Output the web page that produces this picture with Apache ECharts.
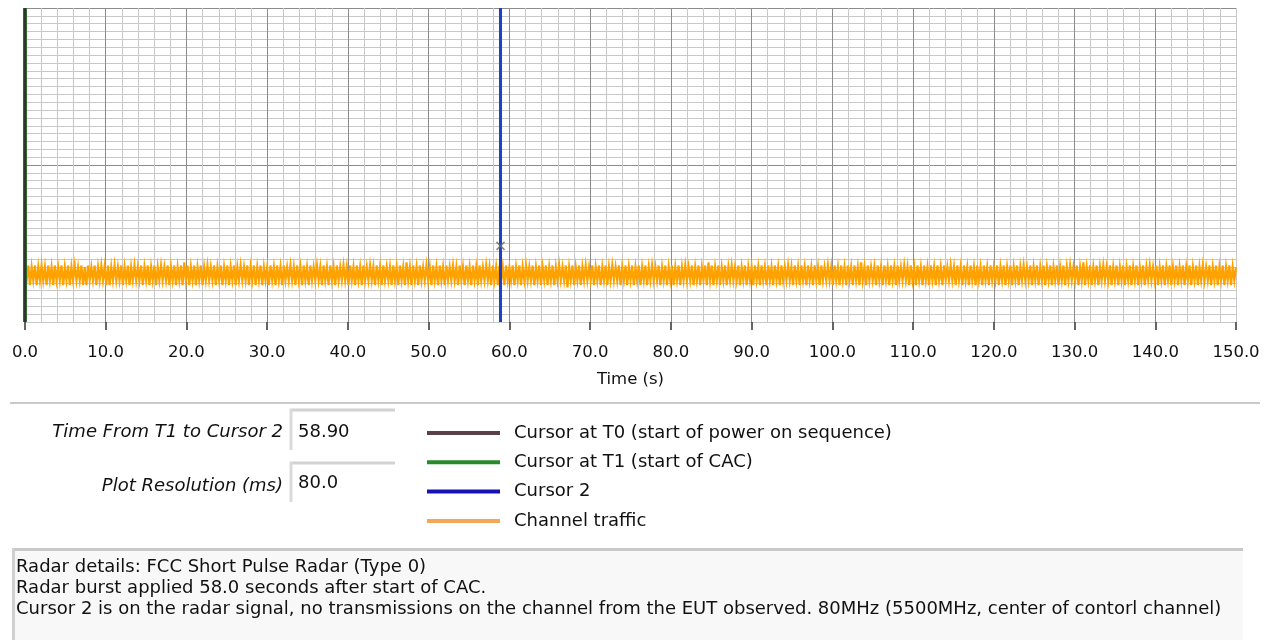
<!DOCTYPE html>
<html>
<head>
<meta charset="utf-8">
<script src="https://cdn.jsdelivr.net/npm/echarts@6/dist/echarts.min.js"></script>
<style>
html,body{margin:0;padding:0;background:#fff}
#chart{width:1270px;height:640px}
</style>
</head>
<body>
<div id="chart"></div>
<script>
// ---- data ----
const X_MIN = 0, X_MAX = 150, X_STEP = 10;
const Y_MIN = 0, Y_MAX = 40, Y_MAJOR = 20;

const seriesNames = [
  'Cursor at T0 (start of power on sequence)',
  'Cursor at T1 (start of CAC)',
  'Cursor 2',
  'Channel traffic'
];
// cursor positions in seconds
const cursorT0 = 0;
const cursorT1 = 0;
const cursor2 = 58.9;
// marker sitting on cursor 2 (time, level)
const cursor2Marker = [58.9, 9.7];

// channel traffic level per code character
const trafficLevels = { '1': 4.4, '2': 4.7, '3': 5.3, '4': 5.7, '5': 6.3, '6': 7.0, '7': 7.2, '8': 7.6 };
// sampled traffic, one code per sample, spanning 0 .. 150 s
const trafficRows = [
  '6372637263736273627363726372637363726273637263736272637363726372637363726',
  '3726372637363726372637283726372637263736372637263726372637363726372637263',
  '6273627362736373627362736273637362736273627363736273627362736373627362736',
  '3627362736283627362736373627362736273637362736273627362736373627362736273',
  '6372637263736372637263726372637363716372637263736372637263726373637263726',
  '3726372637263736372637263726372637363726372637283726372637263736372637263',
  '6273627362736273627363736273627362736273627363736273627362736273628362736',
  '3627362736273627363736273627362736273627362736373627362736273627362736273',
  '6372637263726372637363726372637263726372637263736372638263726372637363726',
  '3726372637263726372637363726372637263726372637263726373637263726372637263',
  '6'
];

const xTickLabels = ['0.0','10.0','20.0','30.0','40.0','50.0','60.0','70.0','80.0','90.0','100.0','110.0','120.0','130.0','140.0','150.0'];
const xAxisName = 'Time (s)';

const fieldLabels = ['Time From T1 to Cursor 2', 'Plot Resolution (ms)'];
const fieldValues = ['58.90', '80.0'];

const detailLines = [
  'Radar details: FCC Short Pulse Radar (Type 0)',
  'Radar burst applied 58.0 seconds after start of CAC.',
  'Cursor 2 is on the radar signal, no transmissions on the channel from the EUT observed. 80MHz (5500MHz, center of contorl channel)'
];

// ---- build series data ----
const trafficCodes = trafficRows.join('');
const nSamples = trafficCodes.length;
const trafficData = [];
for (let i = 0; i < nSamples; i++) {
  const t = X_MIN + (X_MAX - X_MIN) * i / (nSamples - 1);
  trafficData.push([t, trafficLevels[trafficCodes[i]]]);
}
const vline = x => [[x, Y_MIN], [x, Y_MAX]];

const legendColors = ['#5a4048', '#2a8a2a', '#1414b4', '#f4a757'];

const FONT = 'DejaVu Sans';
const UI_SIZE = 18;

// grid colours: lighter bottom / right edge lines, darker majors
const MAJOR = '#8c8c8c', MINOR = '#c8c8c8';
const xSplitColors = xTickLabels.map((_, i) => i === xTickLabels.length - 1 ? MINOR : MAJOR);
const ySplitColors = [MINOR, MAJOR, MAJOR];

const chart = echarts.init(document.getElementById('chart'), null, { renderer: 'canvas' });

const graphics = [
  // separator under the plot
  { type: 'line', shape: { x1: 10, y1: 403, x2: 1260, y2: 403 }, style: { stroke: '#c9c9c9', lineWidth: 2 } },
  // field labels
  { type: 'text', x: 283, y: 432, style: { text: fieldLabels[0], fontFamily: FONT, fontStyle: 'italic', fontSize: UI_SIZE, fill: '#111', align: 'right', verticalAlign: 'middle' } },
  { type: 'text', x: 283, y: 486, style: { text: fieldLabels[1], fontFamily: FONT, fontStyle: 'italic', fontSize: UI_SIZE, fill: '#111', align: 'right', verticalAlign: 'middle' } },
  // field boxes
  { type: 'line', shape: { x1: 290, y1: 410, x2: 395, y2: 410 }, style: { stroke: '#d2d2d2', lineWidth: 3 } },
  { type: 'line', shape: { x1: 291, y1: 409, x2: 291, y2: 450 }, style: { stroke: '#dadada', lineWidth: 3 } },
  { type: 'text', x: 298, y: 432, style: { text: fieldValues[0], fontFamily: FONT, fontSize: UI_SIZE, fill: '#111', align: 'left', verticalAlign: 'middle' } },
  { type: 'line', shape: { x1: 290, y1: 463, x2: 395, y2: 463 }, style: { stroke: '#d2d2d2', lineWidth: 3 } },
  { type: 'line', shape: { x1: 291, y1: 462, x2: 291, y2: 502 }, style: { stroke: '#dadada', lineWidth: 3 } },
  { type: 'text', x: 298, y: 483, style: { text: fieldValues[1], fontFamily: FONT, fontSize: UI_SIZE, fill: '#111', align: 'left', verticalAlign: 'middle' } },
  // details box
  { type: 'rect', shape: { x: 12, y: 548, width: 1231, height: 92 }, style: { fill: '#f8f8f8' } },
  { type: 'line', shape: { x1: 12, y1: 549.5, x2: 1243, y2: 549.5 }, style: { stroke: '#c8c8c8', lineWidth: 3 } },
  { type: 'line', shape: { x1: 13.5, y1: 548, x2: 13.5, y2: 640 }, style: { stroke: '#d0d0d0', lineWidth: 3 } }
];
detailLines.forEach((s, i) => {
  graphics.push({ type: 'text', x: 16, y: 567 + i * 21, style: { text: s, fontFamily: FONT, fontSize: UI_SIZE, fill: '#111', align: 'left', verticalAlign: 'middle' } });
});

chart.setOption({
  animation: false,
  backgroundColor: '#fff',
  grid: { left: 25, right: 34, top: 8, bottom: 318, containLabel: false },
  xAxis: {
    type: 'value', min: X_MIN, max: X_MAX, interval: X_STEP, offset: 6,
    name: xAxisName, nameLocation: 'middle', nameGap: 43,
    nameTextStyle: { fontFamily: FONT, fontSize: 16.5, color: '#111' },
    axisLine: { show: false },
    axisTick: { show: true, length: 8, lineStyle: { color: '#333', width: 1.5 } },
    axisLabel: { margin: 16, fontFamily: FONT, fontSize: 16.5, color: '#111',
      formatter: v => xTickLabels[Math.round((v - X_MIN) / X_STEP)] },
    splitLine: { show: true, lineStyle: { color: xSplitColors, width: 1 } },
    minorTick: { show: false, splitNumber: 5 },
    minorSplitLine: { show: true, lineStyle: { color: MINOR, width: 1 } }
  },
  yAxis: {
    type: 'value', min: Y_MIN, max: Y_MAX, interval: Y_MAJOR,
    axisLine: { show: false }, axisTick: { show: false }, axisLabel: { show: false },
    splitLine: { show: true, lineStyle: { color: ySplitColors, width: 1 } },
    minorTick: { show: false, splitNumber: 20 },
    minorSplitLine: { show: true, lineStyle: { color: MINOR, width: 1 } }
  },
  legend: {
    orient: 'vertical', left: 422, top: 418, icon: 'rect',
    itemWidth: 73, itemHeight: 4, itemGap: 9.3,
    itemStyle: { borderWidth: 0 },
    textStyle: { fontFamily: FONT, fontSize: UI_SIZE, color: '#111', lineHeight: 20, padding: [0, 0, 0, 9] },
    selectedMode: false,
    data: seriesNames.map((n, i) => ({ name: n, itemStyle: { color: legendColors[i], borderWidth: 0 } }))
  },
  graphic: graphics,
  series: [
    { name: seriesNames[3], type: 'line', data: trafficData, showSymbol: false, symbol: 'none', step: 'end',
      lineStyle: { color: '#ffa200', width: 2.2, join: 'miter', cap: 'butt' }, itemStyle: { color: '#ffa200' }, z: 2 },
    { name: seriesNames[1], type: 'line', data: vline(cursorT1), symbol: 'none', clip: false,
      lineStyle: { color: '#2e6b2e', width: 4 }, itemStyle: { color: '#2e6b2e' }, z: 3 },
    { name: seriesNames[0], type: 'line', data: vline(cursorT0), symbol: 'none', clip: false,
      lineStyle: { color: '#33352d', width: 2 }, itemStyle: { color: '#33352d' }, z: 4 },
    { name: seriesNames[2], type: 'line', data: vline(cursor2), symbol: 'none',
      lineStyle: { color: '#1a40cc', width: 3 }, itemStyle: { color: '#1a40cc' }, z: 5 },
    { name: 'cursor2-marker', type: 'scatter', data: [cursor2Marker],
      symbol: 'path://M0 0L10 10M10 0L0 10', symbolSize: 8,
      itemStyle: { color: 'rgba(0,0,0,0)', borderColor: '#6a6a6a', borderWidth: 1.5 }, z: 6 }
  ]
});
</script>
</body>
</html>
